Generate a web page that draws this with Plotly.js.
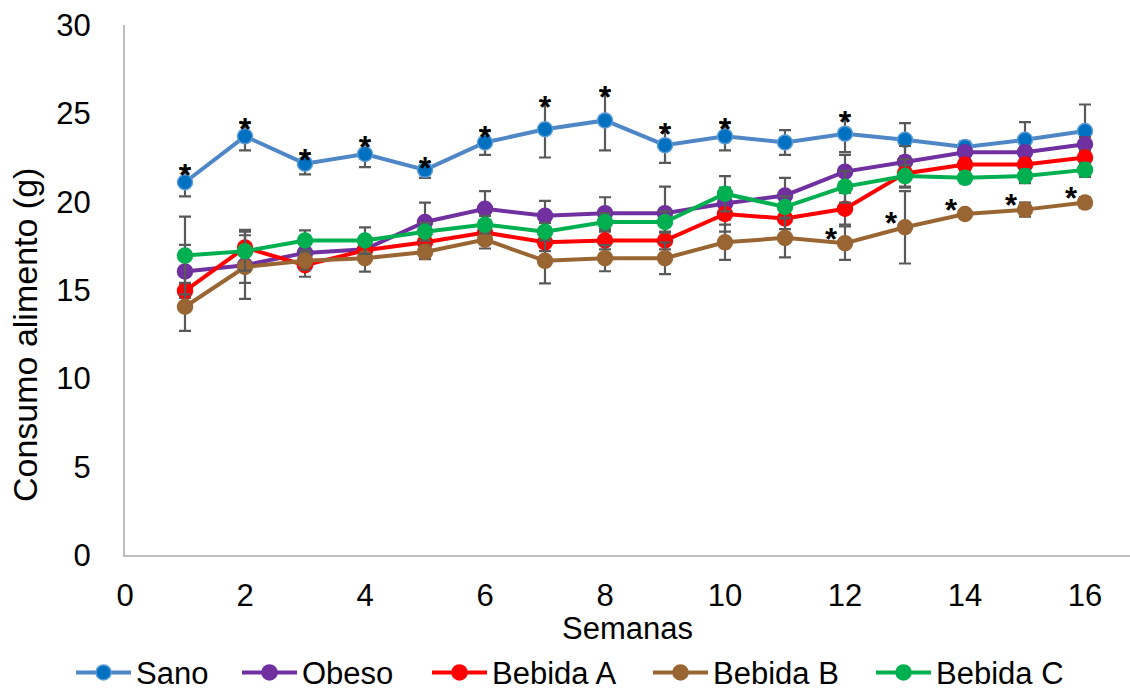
<!DOCTYPE html>
<html>
<head>
<meta charset="utf-8">
<script src="https://cdn.plot.ly/plotly-3.0.1.min.js"></script>
<style>html,body{margin:0;padding:0;background:#fff;}#chart{width:1130px;height:690px;}</style>
</head>
<body>
<div id="chart"></div>
<script>
var weeks = [1,2,3,4,5,6,7,8,9,10,11,12,13,14,15,16];
var sano     = [21.1,23.7,22.15,22.7,21.8,23.35,24.1,24.6,23.2,23.7,23.35,23.85,23.5,23.1,23.5,24.0];
var obeso    = [16.05,16.4,17.1,17.3,18.85,19.6,19.2,19.35,19.35,19.9,20.35,21.7,22.25,22.8,22.8,23.25];
var bebidaA  = [14.95,17.4,16.4,17.25,17.7,18.25,17.7,17.8,17.8,19.3,19.05,19.6,21.6,22.1,22.1,22.5];
var bebidaB  = [14.05,16.3,16.65,16.8,17.15,17.85,16.65,16.8,16.8,17.7,17.95,17.65,18.55,19.3,19.55,19.95];
var bebidaC  = [16.95,17.2,17.8,17.8,18.3,18.7,18.3,18.85,18.85,20.45,19.7,20.85,21.45,21.35,21.45,21.8];

var sanoErr    = [0.8,0.8,0.6,0.75,0.45,0.7,1.6,1.7,1.0,0.8,0.7,1.05,0.95,0.3,1.0,1.5];
var obesoErr   = [1.5,1.0,0.5,0.6,1.1,1.0,0.85,0.9,1.5,0.9,1.0,0.95,0.9,0.3,0.3,0.4];
var bebidaAErr = [0.4,1.0,0.65,0.5,0.5,0.5,0.5,0.5,0.5,1.0,0.6,0.9,0.8,0.3,0.3,0.4];
var bebidaBErr = [1.36,1.8,0.5,0.76,0.4,0.5,1.27,0.74,0.9,1.0,1.1,0.95,2.05,0.2,0.4,0.3];
var bebidaCErr = [2.2,1.1,0.57,0.75,0.5,0.5,0.5,0.5,0.6,1.0,0.6,0.9,0.6,0.3,0.4,0.4];

var sanoStarWeeks = [1,2,3,4,5,6,7,8,9,10,12];
var bebidaBStarWeeks = [12,13,14,15,16];

var seriesNames = ['Sano','Obeso','Bebida A','Bebida B','Bebida C'];
var seriesData = [sano, obeso, bebidaA, bebidaB, bebidaC];
var seriesErr = [sanoErr, obesoErr, bebidaAErr, bebidaBErr, bebidaCErr];
var lineColors = ['#4F86C6','#7030A0','#FF0000','#996633','#00B050'];
var markerColors = ['#0070C0','#7030A0','#FF0000','#996633','#00B050'];
var markerLines = ['#5B9BD5','#7030A0','#FF0000','#996633','#00B050'];
// left edge (px) of each legend entry
var legendLeft = [71, 237, 427, 648, 871];

var FONT = 'Liberation Sans, Arial, sans-serif';
var legendIds = ['legend','legend2','legend3','legend4','legend5'];

var traces = seriesNames.map(function(n, i){
  return {
    x: weeks, y: seriesData[i], name: n, type: 'scatter', mode: 'lines+markers',
    legend: legendIds[i],
    line: {color: lineColors[i], width: 4},
    marker: {color: markerColors[i], size: 15, line: {color: markerLines[i], width: 1.5}},
    error_y: {type: 'data', array: seriesErr[i], visible: true, color: '#595959', thickness: 2.2, width: 6}
  };
});

var annotations = [];
sanoStarWeeks.forEach(function(w){
  var i = weeks.indexOf(w);
  annotations.push({x: w, y: sano[i] + sanoErr[i], xref: 'x', yref: 'y', text: '<b>*</b>', showarrow: false,
    font: {family: FONT, size: 31, color: '#000'}, yshift: -7});
});
bebidaBStarWeeks.forEach(function(w){
  var i = weeks.indexOf(w);
  annotations.push({x: w, y: bebidaB[i], xref: 'x', yref: 'y', text: '<b>*</b>', showarrow: false,
    font: {family: FONT, size: 31, color: '#000'}, xshift: -14, yshift: 4});
});
annotations.push({text: 'Consumo alimento (g)', xref: 'paper', yref: 'paper', x: -0.0995, y: 0.415,
  xanchor: 'center', yanchor: 'middle', textangle: -90, showarrow: false,
  font: {family: FONT, size: 34, color: '#000'}});

var layout = {
  width: 1130, height: 690,
  margin: {l: 125, r: 0, t: 25, b: 135},
  paper_bgcolor: '#fff', plot_bgcolor: '#fff',
  font: {family: FONT, size: 31, color: '#000'},
  showlegend: true,
  xaxis: {range: [0, 16.75], tickvals: [0,2,4,6,8,10,12,14,16], ticktext: ['0','2','4','6','8','10','12','14','16'],
    showgrid: false, zeroline: false, showline: true, linecolor: '#BFBFBF', linewidth: 2,
    ticks: '', ticklabelstandoff: 12, tickfont: {family: FONT, size: 31, color: '#000'},
    title: {text: 'Semanas', font: {family: FONT, size: 31, color: '#000'}, standoff: 4}},
  yaxis: {range: [0, 30], tickvals: [0,5,10,15,20,25,30], ticktext: ['0','5','10','15','20','25','30'],
    showgrid: false, zeroline: false, showline: true, linecolor: '#BFBFBF', linewidth: 2,
    ticks: '', ticklabelstandoff: 26, tickfont: {family: FONT, size: 31, color: '#000'}},
  annotations: annotations
};
legendIds.forEach(function(id, i){
  layout[id] = {orientation: 'h', xref: 'container', yref: 'container', x: legendLeft[i] / 1130, xanchor: 'left',
    y: 0.025, yanchor: 'middle', font: {family: FONT, size: 31, color: '#000'}, itemwidth: 55,
    bgcolor: 'rgba(0,0,0,0)', borderwidth: 0};
});

Plotly.newPlot('chart', traces, layout, {displayModeBar: false, staticPlot: true});
</script>
</body>
</html>
